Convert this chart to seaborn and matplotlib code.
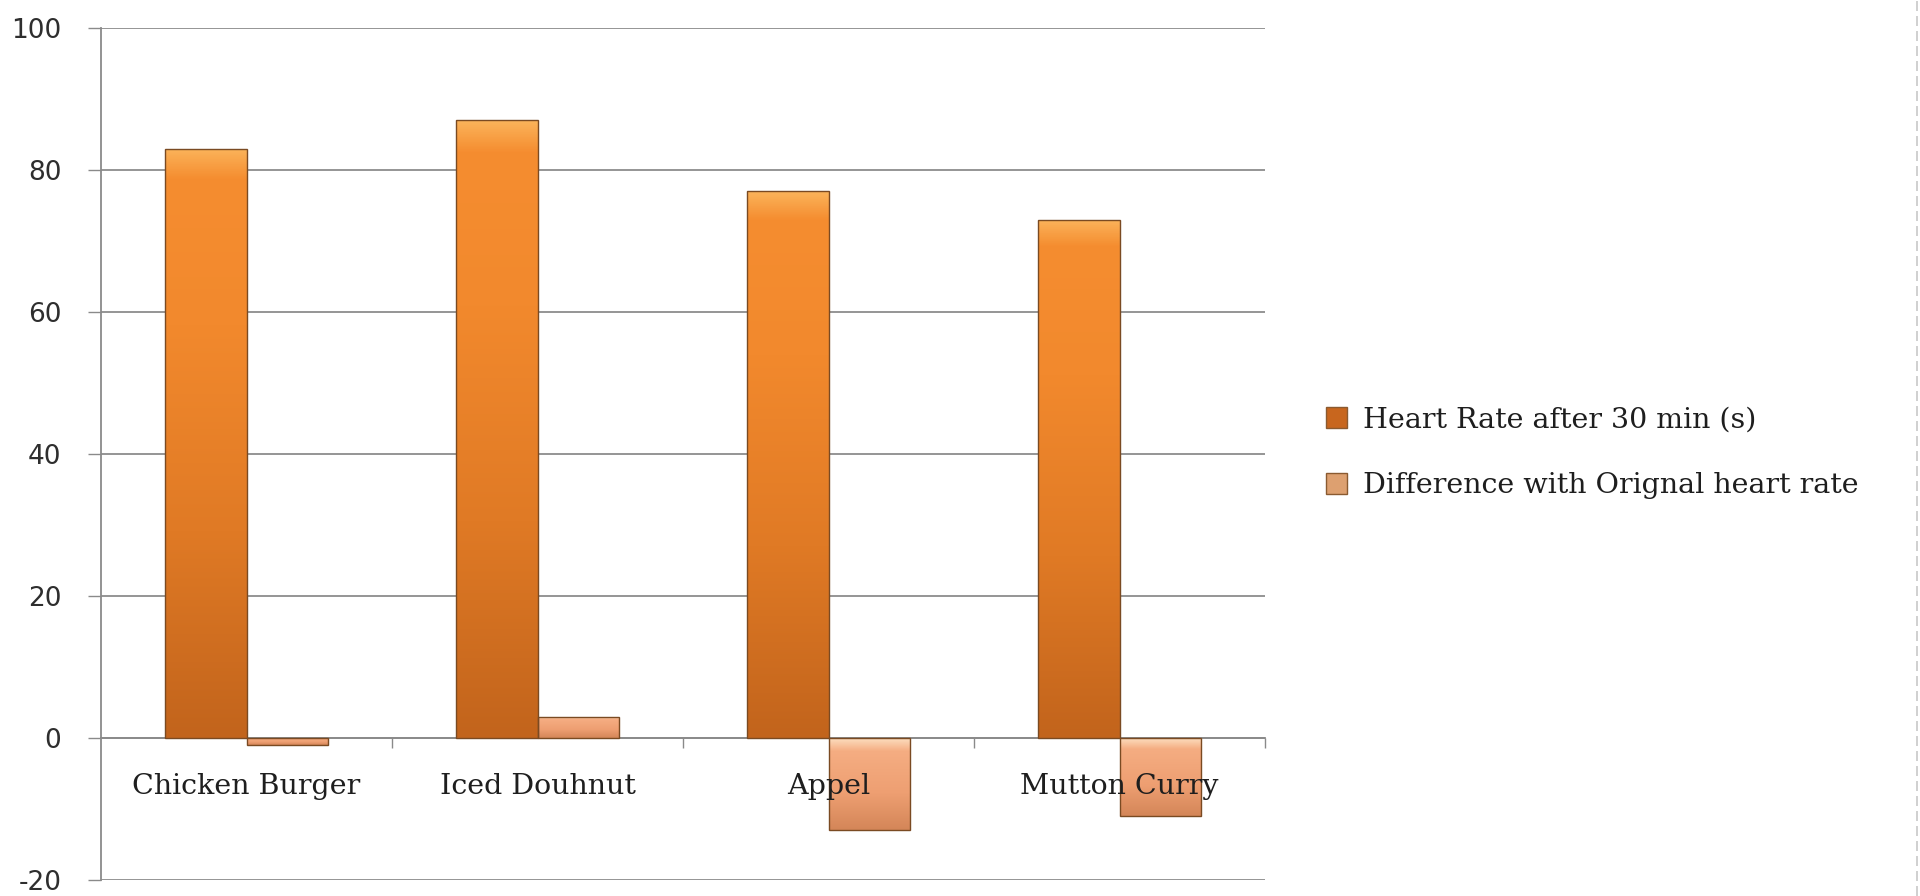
import numpy as np
import pandas as pd
import matplotlib
matplotlib.use("Agg")
import matplotlib.pyplot as plt
from matplotlib.lines import Line2D
from matplotlib.colors import LinearSegmentedColormap
import seaborn as sns

# ---- data ----
categories = ["Chicken Burger", "Iced Douhnut", "Appel", "Mutton Curry"]
heart_rate_30 = [83, 87, 77, 73]
difference = [-1, 3, -13, -11]
series_names = ["Heart Rate after 30 min (s)", "Difference with Orignal heart rate"]
y_ticks = [-20, 0, 20, 40, 60, 80, 100]

df = pd.DataFrame({
    "Food": categories * 2,
    "Series": [series_names[0]] * len(categories) + [series_names[1]] * len(categories),
    "Value": heart_rate_30 + difference,
})

sns.set_theme(style="white")
plt.rcParams["font.family"] = ["DejaVu Sans"]

fig = plt.figure(figsize=(19.2, 8.96), dpi=100)
ax = fig.add_axes([101 / 1920, 1 - 880 / 896, (1265 - 101) / 1920, (880 - 28) / 896])

palette = {series_names[0]: "#EE8429", series_names[1]: "#F2A57A"}
sns.barplot(data=df, x="Food", y="Value", hue="Series", order=categories,
            hue_order=series_names, palette=palette, width=0.56, ax=ax,
            edgecolor="#7a4a22", linewidth=1.0, saturation=1, errorbar=None,
            legend=True, zorder=3)

# gradient shading clipped to each bar
grad_orange = LinearSegmentedColormap.from_list(
    "o", [(0.0, "#C2641C"), (0.35, "#E07A25"), (0.7, "#F2892D"), (0.95, "#F58D30"), (1.0, "#FBB35A")])
grad_peach = LinearSegmentedColormap.from_list(
    "p", [(0.0, "#D48658"), (0.4, "#EE9F72"), (0.85, "#F5AD82"), (1.0, "#FDE2C4")])
n = len(categories)
for i, patch in enumerate(ax.patches[:2 * n]):
    cmap = grad_orange if i < n else grad_peach
    x0, y0 = patch.get_x(), patch.get_y()
    w, h = patch.get_width(), patch.get_height()
    lo, hi = min(y0, y0 + h), max(y0, y0 + h)
    g = np.linspace(0, 1, 256).reshape(-1, 1)
    im = ax.imshow(g, cmap=cmap, origin="lower", aspect="auto",
                   extent=(x0, x0 + w, lo, hi), zorder=3.5)
    im.set_clip_path(patch)
    patch.set_zorder(4)
    patch.set_facecolor("none")

ax.set_xlim(-0.5, n - 0.5)
ax.set_ylim(-20, 100)
ax.set_yticks(y_ticks)
ax.set_yticklabels([str(v) for v in y_ticks])
ax.tick_params(axis="y", which="major", left=True, length=9.5, width=1.0,
               color="#8a8a8a", pad=19, labelsize=19, labelcolor="#2e2e2e")

# category boundaries as major ticks, labels on minor ticks
ax.set_xticks([i + 0.5 for i in range(n)])
ax.set_xticklabels([""] * n)
ax.set_xticks(list(range(n)), minor=True)
ax.set_xticklabels(categories, minor=True)
ax.tick_params(axis="x", which="major", bottom=True, length=7, width=1.0,
               color="#8a8a8a", direction="out")
ax.tick_params(axis="x", which="minor", bottom=True, length=0, pad=25,
               labelsize=20.5, labelcolor="#1e1e1e", labelfontfamily="DejaVu Serif")

ax.grid(axis="y", color="#8c8c8c", linewidth=1.3, zorder=0)
ax.set_axisbelow(True)
ax.xaxis.set_zorder(5)
for s in ["top", "right"]:
    ax.spines[s].set_visible(False)
ax.spines["bottom"].set_position(("data", 0))
ax.spines["bottom"].set_color("#8a8a8a")
ax.spines["bottom"].set_linewidth(1.3)
ax.spines["bottom"].set_zorder(2)
ax.spines["left"].set_color("#8a8a8a")
ax.spines["left"].set_linewidth(1.3)
ax.set_xlabel("")
ax.set_ylabel("")

# legend
handles, labels = ax.get_legend_handles_labels()
leg = ax.legend(handles, labels, loc="center left",
                bbox_to_anchor=(1300 / 1920, 1 - 453 / 896),
                bbox_transform=fig.transFigure, frameon=False,
                prop={"family": ["DejaVu Serif"], "size": 20.5},
                handlelength=0.75, handleheight=0.75, handletextpad=0.55,
                labelspacing=1.35)
leg_colors = ["#C8661E", "#DDA070"]
for h, c in zip(leg.legend_handles, leg_colors):
    h.set_facecolor(c)
    h.set_edgecolor("#8a5a30")
for t in leg.get_texts():
    t.set_color("#1e1e1e")

# faint right border
fig.add_artist(Line2D([0.9985, 0.9985], [0, 1], transform=fig.transFigure,
                      color="#c8c8c8", linewidth=1.2, linestyle=(0, (6, 3))))

fig.savefig("out.png", dpi=100, facecolor="white")
